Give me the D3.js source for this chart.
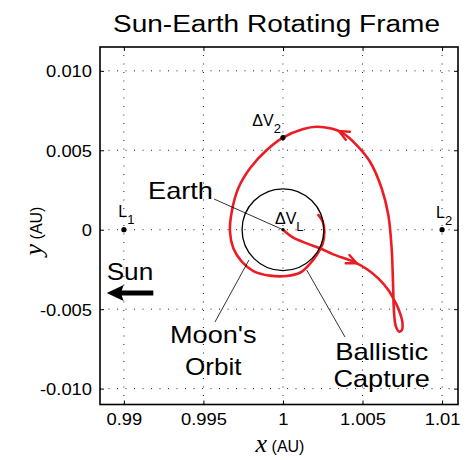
<!DOCTYPE html>
<html>
<head>
<style>
  body {margin: 0; background: #fff;}
  text {font-family: "Liberation Sans", Arial, sans-serif; fill: #000;}
  .var {font-family: "Liberation Serif", "Times New Roman", serif; font-style: italic;}
</style>
<script src="https://d3js.org/d3.v7.min.js"></script>
</head>
<body>
<div id="chart"></div>
<script>
const xTicks = [0.99, 0.995, 1, 1.005, 1.01],
      xTickLabels = ["0.99", "0.995", "1", "1.005", "1.01"]
const yTicks = [-0.01, -0.005, 0, 0.005, 0.01],
      yTickLabels = ["-0.010", "-0.005", "0", "0.005", "0.010"]

// trajectory in the rotating frame (AU)
const trajX = [1.00000, 1.00065, 1.00149, 1.00233, 1.00316, 1.00442, 1.00526, 1.00599, 1.00662, 1.00693,
               1.00715, 1.00736, 1.00750, 1.00748, 1.00731, 1.00710, 1.00700, 1.00696, 1.00690, 1.00683,
               1.00662, 1.00620, 1.00547, 1.00463, 1.00379, 1.00296, 1.00212, 1.00128, 1.00000, 0.99898,
               0.99793, 0.99719, 0.99678, 0.99667, 0.99688, 0.99741, 0.99814, 0.99918, 1.00023, 1.00107,
               1.00159, 1.00212, 1.00250, 1.00260, 1.00250, 1.00222]
const trajY = [0, -0.00050, -0.00086, -0.00117, -0.00155, -0.00201, -0.00247, -0.00306, -0.00379, -0.00432,
               -0.00474, -0.00526, -0.00579, -0.00631, -0.00642, -0.00610, -0.00547, -0.00485, -0.00285, -0.00117,
               0.00093, 0.00261, 0.00428, 0.00533, 0.00607, 0.00638, 0.00648, 0.00634, 0.00580, 0.00502,
               0.00387, 0.00261, 0.00113, -0.00013, -0.00117, -0.00201, -0.00260, -0.00289, -0.00291, -0.00271,
               -0.00226, -0.00159, -0.00086, -0.00013, 0.00051, 0.00093]

// direction arrows along the trajectory
const arrowX = [1.00463, 1.00348],
      arrowY = [-0.00211, 0.00613]

// marked points
const pointNames = ["L1", "L2", "dV2", "Earth"],
      pointX = [0.99, 1.01, 1.0, 1.0],
      pointY = [0, 0, 0.0058, 0]

const moonOrbitRadius = 0.00257

var w = 472, h = 460
var box = {left: 100, right: 458, top: 47, bottom: 404.5}
var red = "#ec1c24"

var svg = d3.select("#chart").append("svg")
  .attr("width", w).attr("height", h)

var x = d3.scaleLinear().domain([0.9885, 1.011]).range([box.left, box.right])
var y = d3.scaleLinear().domain([-0.011, 0.0115]).range([box.bottom, box.top])

function stretch(sel, width) {
  sel.attr("textLength", width).attr("lengthAdjust", "spacingAndGlyphs")
}

// grid
var grid = svg.append("g").attr("stroke", "#222").attr("stroke-width", 1)
  .attr("stroke-dasharray", "1,7.5")
grid.selectAll(".gx").data(xTicks).enter().append("line")
  .attr("x1", d => x(d)).attr("x2", d => x(d))
  .attr("y1", box.bottom).attr("y2", box.top)
grid.selectAll(".gy").data(yTicks).enter().append("line")
  .attr("y1", d => y(d)).attr("y2", d => y(d))
  .attr("x1", box.left).attr("x2", box.right)

// axes with inward ticks
var xAxis = svg.append("g").attr("transform", "translate(0," + box.bottom + ")")
  .call(d3.axisBottom(x).tickValues(xTicks).tickSizeInner(-4).tickSizeOuter(0)
    .tickFormat((d, i) => xTickLabels[i]))
var yAxis = svg.append("g").attr("transform", "translate(" + box.left + ",0)")
  .call(d3.axisLeft(y).tickValues(yTicks).tickSizeInner(-4).tickSizeOuter(0)
    .tickFormat((d, i) => yTickLabels[i]))
svg.append("g").attr("transform", "translate(0," + box.top + ")")
  .call(d3.axisTop(x).tickValues(xTicks).tickSizeInner(-4).tickSizeOuter(0).tickFormat(""))
svg.append("g").attr("transform", "translate(" + box.right + ",0)")
  .call(d3.axisRight(y).tickValues(yTicks).tickSizeInner(-4).tickSizeOuter(0).tickFormat(""))
svg.selectAll(".domain").remove()
svg.selectAll(".tick line").attr("stroke", "#000")
xAxis.selectAll(".tick text").attr("font-size", 17).attr("y", 20).attr("dy", 0)
  .style("font-family", "'Liberation Sans', Arial, sans-serif")
yAxis.selectAll(".tick text").attr("font-size", 17).attr("x", -8).attr("dy", "0.36em")
  .style("font-family", "'Liberation Sans', Arial, sans-serif")
svg.selectAll(".tick text").each(function() {
  var len = this.getComputedTextLength()
  d3.select(this).call(stretch, len * 1.08)
})

svg.append("rect")
  .attr("x", box.left).attr("y", box.top)
  .attr("width", box.right - box.left).attr("height", box.bottom - box.top)
  .attr("fill", "none").attr("stroke", "#000").attr("stroke-width", 1.6)

// trajectory
var pts = trajX.map((d, i) => [d, trajY[i]])
var line = d3.line().x(d => x(d[0])).y(d => y(d[1])).curve(d3.curveCatmullRom.alpha(0.5))
var traj = svg.append("path").attr("d", line(pts))
  .attr("fill", "none").attr("stroke", red).attr("stroke-width", 2.6)
  .attr("stroke-linejoin", "round").attr("stroke-linecap", "round")

// open arrowheads placed on the path
var node = traj.node(), total = node.getTotalLength()
arrowX.forEach(function(ax, k) {
  var px = x(ax), py = y(arrowY[k]), best = 0, bestD = 1e9
  for (var l = 0; l <= total; l += 0.5) {
    var p = node.getPointAtLength(l)
    var dd = (p.x - px) * (p.x - px) + (p.y - py) * (p.y - py)
    if (dd < bestD) { bestD = dd; best = l }
  }
  var tip = node.getPointAtLength(best)
  var back = node.getPointAtLength(Math.max(0, best - 6))
  var ang = Math.atan2(tip.y - back.y, tip.x - back.x)
  var len = 11, spread = 0.42
  var p1 = [tip.x - len * Math.cos(ang - spread), tip.y - len * Math.sin(ang - spread)]
  var p2 = [tip.x - len * Math.cos(ang + spread), tip.y - len * Math.sin(ang + spread)]
  svg.append("path")
    .attr("d", "M" + p1 + "L" + [tip.x, tip.y] + "L" + p2)
    .attr("fill", "none").attr("stroke", red).attr("stroke-width", 2.4)
    .attr("stroke-linejoin", "miter").attr("stroke-linecap", "round")
})

// moon orbit
svg.append("circle")
  .attr("cx", x(1)).attr("cy", y(0))
  .attr("r", x(1 + moonOrbitRadius) - x(1))
  .attr("fill", "none").attr("stroke", "#000").attr("stroke-width", 1.3)

// leader lines
var leaders = [
  [0.995665, 0.001933, 1.0, 0.0],
  [0.995727, -0.005808, 0.997864, -0.001906],
  [1.003898, -0.006752, 1.001491, -0.002535]
]
svg.selectAll(".leader").data(leaders).enter().append("line")
  .attr("x1", d => x(d[0])).attr("y1", d => y(d[1]))
  .attr("x2", d => x(d[2])).attr("y2", d => y(d[3]))
  .attr("stroke", "#000").attr("stroke-width", 0.8)

// points
svg.selectAll(".pt").data(pointNames).enter().append("circle")
  .attr("cx", (d, i) => x(pointX[i])).attr("cy", (d, i) => y(pointY[i]))
  .attr("r", d => d == "Earth" ? 1.6 : 2.6).attr("fill", "#000")

// small labels with subscripts
var subLabels = [
  {main: "L", sub: "1", i: 0, dx: -5.5, dy: -12.4},
  {main: "L", sub: "2", i: 1, dx: -6, dy: -11.4},
  {main: "\u0394V", sub: "2", i: 2, dx: -30.7, dy: -11.6},
  {main: "\u0394V", sub: "L", i: 3, dx: -8, dy: -5.7}
]
subLabels.forEach(function(s) {
  var t = svg.append("text")
    .attr("x", x(pointX[s.i]) + s.dx).attr("y", y(pointY[s.i]) + s.dy)
    .attr("font-size", 16)
  t.append("tspan").text(s.main)
  t.append("tspan").attr("dy", 7).attr("font-size", 13).text(s.sub)
})

// big labels
var bigLabels = [
  {text: "Earth", x: 0.991517, y: 0.001915, anchor: "start", width: 65},
  {text: "Sun", x: 0.988921, y: -0.003164, anchor: "start", width: 46.5},
  {text: "Moon's", x: 0.995621, y: -0.007148, anchor: "middle", width: 86.5},
  {text: "Orbit", x: 0.995621, y: -0.009143, anchor: "middle", width: 56.5},
  {text: "Ballistic", x: 1.006205, y: -0.008199, anchor: "middle", width: 93},
  {text: "Capture", x: 1.006205, y: -0.00988, anchor: "middle", width: 96.5}
]
svg.selectAll(".big").data(bigLabels).enter().append("text")
  .attr("x", d => x(d.x)).attr("y", d => y(d.y))
  .attr("text-anchor", d => d.anchor).attr("font-size", 24)
  .text(d => d.text)
  .each(function(d) { d3.select(this).call(stretch, d.width) })

// sun arrow
var tipX = x(0.988921), tailX = x(0.99185), ay = y(-0.003983)
svg.append("path")
  .attr("d", "M" + tipX + "," + ay +
    "L" + (tipX + 17) + "," + (ay - 8) +
    "L" + (tipX + 15) + "," + (ay - 2.6) +
    "L" + tailX + "," + (ay - 2.6) +
    "L" + tailX + "," + (ay + 2.6) +
    "L" + (tipX + 15) + "," + (ay + 2.6) +
    "L" + (tipX + 17) + "," + (ay + 8) + "Z")
  .attr("fill", "#000")

// title
svg.append("text").attr("x", 276.5).attr("y", 31.5)
  .attr("text-anchor", "middle").attr("font-size", 23)
  .text("Sun-Earth Rotating Frame").call(stretch, 327)

// axis labels
var xl = svg.append("text").attr("x", 280).attr("y", 451.5).attr("text-anchor", "middle")
xl.append("tspan").attr("class", "var").attr("font-size", 26).text("x")
xl.append("tspan").attr("font-size", 16).text(" (AU)")

var yl = svg.append("text").attr("transform", "translate(41.5,231) rotate(-90)")
  .attr("text-anchor", "middle")
yl.append("tspan").attr("class", "var").attr("font-size", 26).text("y")
yl.append("tspan").attr("font-size", 16).text(" (AU)")
</script>
</body>
</html>
